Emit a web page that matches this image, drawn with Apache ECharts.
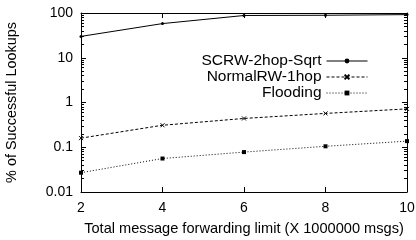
<!DOCTYPE html>
<html>
<head>
<meta charset="utf-8">
<title>Lookups</title>
<script src="https://cdn.jsdelivr.net/npm/echarts@6/dist/echarts.min.js"></script>
<style>html,body{margin:0;padding:0;background:#fff}</style>
</head>
<body>
<div id="main" style="width:416px;height:240px;"></div>
<script type="text/javascript">
var limits = [2, 4, 6, 8, 10];
var scrw = [30, 58, 88, 89, 92];
var normalRW = [0.16, 0.31, 0.44, 0.57, 0.72];
var flooding = [0.027, 0.056, 0.078, 0.105, 0.137];
var names = ['SCRW-2hop-Sqrt', 'NormalRW-1hop', 'Flooding'];

var font = 'Liberation Sans, Arial, sans-serif';
var myChart = echarts.init(document.getElementById('main'));

function pairs(vals) {
	return limits.map(function (x, i) { return [x, vals[i]]; });
}

// log minor tick positions (2..9 in every decade), given as exponents
var minorExp = [];
[-2, -1, 0, 1].forEach(function (e) {
	for (var k = 2; k <= 9; k++) minorExp.push(e + Math.log10(k));
});

var tickStyle = { show: true, inside: true, length: 5, lineStyle: { color: '#000' } };

function minorAxis(pos) {
	return {
		type: 'value', min: -2, max: 2, position: pos,
		axisLine: { show: false, onZero: false },
		axisTick: { show: true, inside: true, length: 3, customValues: minorExp, lineStyle: { color: '#000' } },
		axisLabel: { show: false },
		splitLine: { show: false }
	};
}

var option = {
	animation: false,
	grid: { left: 81, right: 9, top: 13, bottom: 48, outerBoundsMode: 'none', containLabel: false },
	legend: {
		orient: 'vertical',
		right: 43,
		top: 48,
		align: 'right',
		itemWidth: 41,
		itemHeight: 6,
		itemGap: 0,
		lineStyle: { width: 1 },
		textStyle: { fontFamily: font, fontSize: 15.5, color: '#000', lineHeight: 13 },
		data: names
	},
	xAxis: [{
		type: 'value', min: 2, max: 10, interval: 2,
		name: 'Total message forwarding limit (X 1000000 msgs)',
		nameLocation: 'middle', nameGap: 29,
		nameTextStyle: { fontFamily: font, fontSize: 14.6, color: '#000' },
		axisLine: { onZero: false, lineStyle: { color: '#000' } },
		axisTick: tickStyle,
		axisLabel: { fontFamily: font, fontSize: 14, color: '#000', margin: 9 },
		splitLine: { show: false }
	}, {
		type: 'value', min: 2, max: 10, interval: 2, position: 'top',
		axisLine: { onZero: false, lineStyle: { color: '#000' } },
		axisTick: tickStyle,
		axisLabel: { show: false },
		splitLine: { show: false }
	}],
	yAxis: [{
		type: 'log', min: 0.01, max: 100, logBase: 10, position: 'left',
		name: '% of Successful Lookups',
		nameLocation: 'middle', nameGap: 62,
		nameTextStyle: { fontFamily: font, fontSize: 14.4, color: '#000' },
		axisLine: { show: true, onZero: false, lineStyle: { color: '#000' } },
		axisTick: tickStyle,
		axisLabel: { fontFamily: font, fontSize: 14, color: '#000', margin: 8 },
		splitLine: { show: false }
	}, {
		type: 'log', min: 0.01, max: 100, logBase: 10, position: 'right',
		axisLine: { show: true, onZero: false, lineStyle: { color: '#000' } },
		axisTick: tickStyle,
		axisLabel: { show: false },
		splitLine: { show: false }
	}, minorAxis('left'), minorAxis('right')],
	series: [{
		name: names[0], type: 'line', data: pairs(scrw),
		symbol: 'circle', symbolSize: 3,
		itemStyle: { color: '#000' },
		lineStyle: { color: '#000', width: 1 }
	}, {
		name: names[1], type: 'line', data: pairs(normalRW),
		symbol: 'path://M0,0L10,10M10,0L0,10', symbolSize: 4,
		itemStyle: { color: '#000', borderColor: '#000', borderWidth: 1 },
		lineStyle: { color: '#000', width: 1, type: [3, 2] }
	}, {
		name: names[2], type: 'line', data: pairs(flooding),
		symbol: 'rect', symbolSize: 4,
		itemStyle: { color: '#000' },
		lineStyle: { color: '#000', width: 1, type: [1, 2] }
	}]
};

myChart.setOption(option);
</script>
</body>
</html>
